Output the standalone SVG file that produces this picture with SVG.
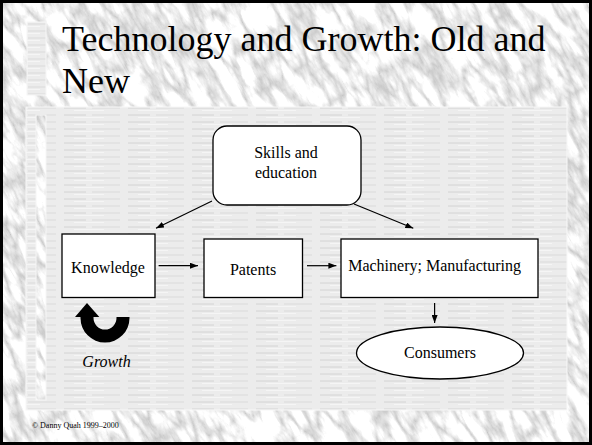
<svg xmlns="http://www.w3.org/2000/svg" width="592" height="445" viewBox="0 0 592 445">
  <style>
    .title { font-family: "Liberation Serif", "Times New Roman", serif; font-size: 36px; fill: #000; }
    .lbl { font-family: "Liberation Serif", "Times New Roman", serif; font-size: 16px; fill: #000; text-anchor: middle; }
    .box { fill: #fff; stroke: #000; stroke-width: 1.3; }
    .conn { stroke: #000; stroke-width: 1.2; fill: none; marker-end: url(#ah); }
    .copy { font-family: "Liberation Serif", "Times New Roman", serif; font-size: 8px; fill: #000; }
  </style>
  <defs>
    <marker id="ah" viewBox="0 0 8 6" markerUnits="userSpaceOnUse" markerWidth="8" markerHeight="6" refX="8" refY="3" orient="auto">
      <path d="M0,0 L8,3 L0,6 Z" fill="#000"/>
    </marker>
    <filter id="marble" x="0" y="0" width="100%" height="100%" color-interpolation-filters="sRGB">
      <feTurbulence type="turbulence" baseFrequency="0.07 0.022" numOctaves="5" seed="11"/>
      <feColorMatrix type="matrix" values="0.55 0 0 0 0.76  0.55 0 0 0 0.76  0.55 0 0 0 0.76  0 0 0 0 1"/>
    </filter>
    <pattern id="lines" width="64" height="7" patternUnits="userSpaceOnUse">
      <rect width="64" height="7" fill="#ececec"/>
      <line x1="0" y1="3" x2="22" y2="3" stroke="#cbcbcb" stroke-width="0.8"/>
      <line x1="28" y1="3" x2="56" y2="3" stroke="#d4d4d4" stroke-width="0.8"/>
      <line x1="10" y1="5.5" x2="40" y2="5.5" stroke="#f7f7f7" stroke-width="0.8"/>
    </pattern>
    <clipPath id="slide"><rect x="0" y="0" width="592" height="445"/></clipPath>
    <clipPath id="strip"><rect x="36" y="115" width="10" height="285"/></clipPath>
  </defs>

  <!-- marble background -->
  <rect x="0" y="0" width="592" height="445" fill="#dcdcdc"/>
  <g clip-path="url(#slide)">
    <g transform="rotate(-30 296 222)">
      <rect x="-150" y="-200" width="900" height="850" filter="url(#marble)"/>
    </g>
  </g>
  <rect x="1.5" y="1.5" width="589" height="442" fill="none" stroke="#000" stroke-width="3"/>

  <!-- title strip -->
  <rect x="27" y="22" width="19" height="73" fill="url(#lines)" stroke="#f6f6f6" stroke-width="1"/>
  <text class="title" x="62" y="51">Technology and Growth: Old and</text>
  <text class="title" x="62" y="93">New</text>

  <!-- content panel -->
  <rect x="26" y="107" width="541" height="303" fill="url(#lines)" stroke="#f8f8f8" stroke-width="1"/>
  <g clip-path="url(#strip)">
    <rect x="36" y="115" width="10" height="285" fill="#d6d6d6"/>
    <g transform="rotate(-30 41 257)">
      <rect x="-120" y="60" width="320" height="400" filter="url(#marble)"/>
    </g>
  </g>
  <rect x="36" y="115" width="10" height="285" fill="none" stroke="#f6f6f6" stroke-width="1"/>

  <!-- connectors -->
  <g id="connectors">
    <line class="conn" x1="212" y1="201" x2="156" y2="228.3"/>
    <line class="conn" x1="354" y1="204" x2="413.3" y2="228.3"/>
    <line class="conn" x1="158.6" y1="265.7" x2="198" y2="265.7"/>
    <line class="conn" x1="307" y1="265.7" x2="336.4" y2="265.7"/>
    <line class="conn" x1="434.6" y1="303" x2="434.6" y2="323"/>
  </g>

  <g id="skills">
    <rect class="box" x="213" y="126" width="148" height="79" rx="14" ry="14"/>
    <text class="lbl" x="286" y="157.5">Skills and</text>
    <text class="lbl" x="286" y="178">education</text>
  </g>
  <g id="knowledge">
    <rect class="box" x="62" y="234" width="93" height="63.5"/>
    <text class="lbl" x="108" y="272.5">Knowledge</text>
  </g>
  <g id="patents">
    <rect class="box" x="204" y="239" width="98.5" height="58.5"/>
    <text class="lbl" x="253" y="274.5">Patents</text>
  </g>
  <g id="machinery">
    <rect class="box" x="341" y="239" width="197" height="58.5"/>
    <text class="lbl" x="434.6" y="270.7">Machinery; Manufacturing</text>
  </g>
  <g id="consumers">
    <ellipse class="box" cx="440" cy="353" rx="83.5" ry="26"/>
    <text class="lbl" x="440" y="358">Consumers</text>
  </g>
  <g id="growth">
    <path d="M80.5 317 L80.5 318 A24.5 24.5 0 0 0 129.5 318 L129.5 317 L116.5 317 L116.5 318 A11.5 11.5 0 0 1 93.5 318 L93.5 317 Z" fill="#000"/>
    <path d="M75 317 L87 303 L99.3 317 Z" fill="#000"/>
    <text class="lbl" x="106.5" y="367" font-style="italic">Growth</text>
  </g>

  <text class="copy" x="32" y="427.7">© Danny Quah 1999–2000</text>
</svg>
